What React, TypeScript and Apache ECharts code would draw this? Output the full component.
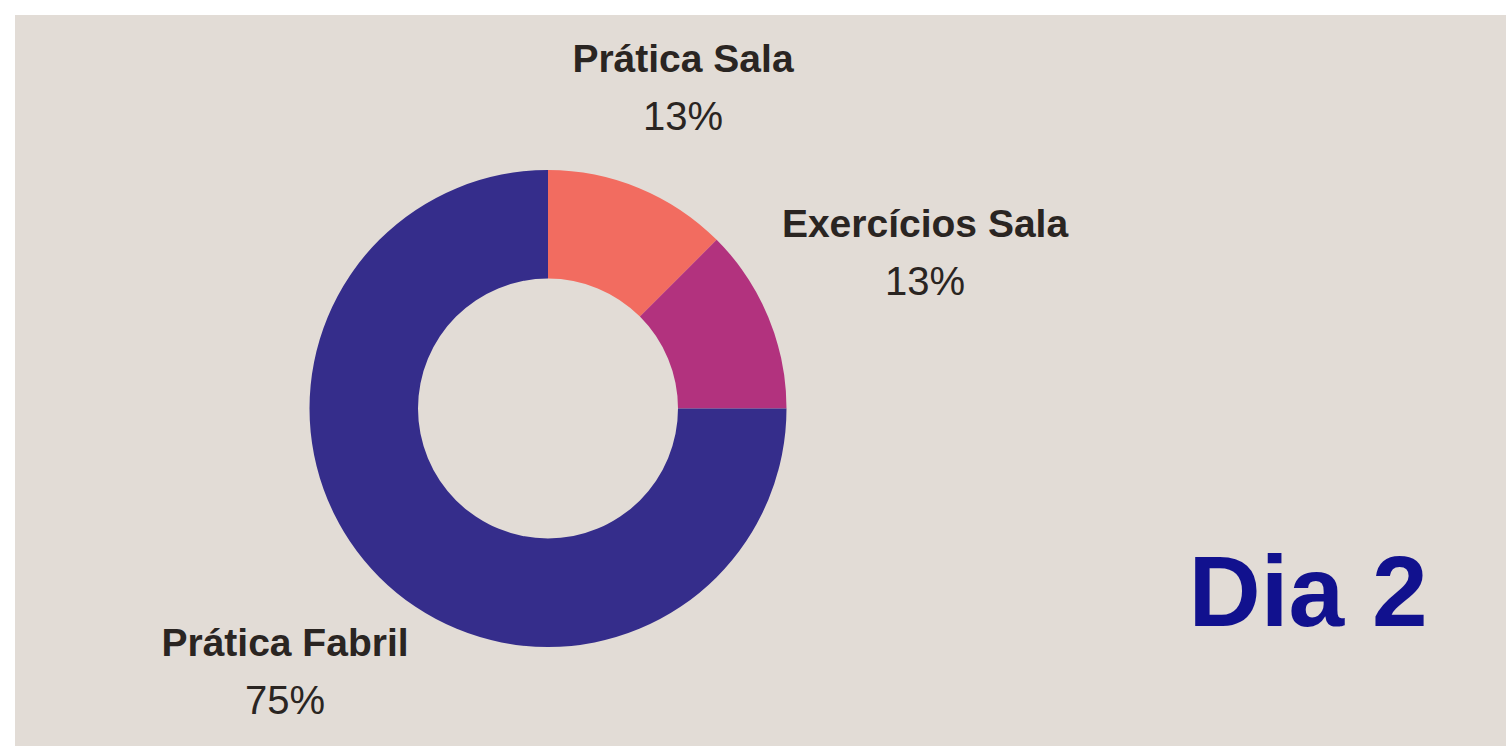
import React, { useEffect, useRef } from "react";
import * as echarts from "echarts";

const categories = ["Prática Sala", "Exercícios Sala", "Prática Fabril"];
const values = [12.5, 12.5, 75];
const colors = ["#f26c60", "#b2327e", "#352d8b"];
const labelAnchors = [
  [668, 72],
  [910, 237],
  [270, 656],
];
const titleText = "Dia 2";

export default function App() {
  const ref = useRef<HTMLDivElement>(null);
  useEffect(() => {
    if (!ref.current) return;
    const chart = echarts.init(ref.current, null, { renderer: "svg" });
    chart.setOption({
      animation: false,
      backgroundColor: "#e2dcd6",
      graphic: [
        {
          type: "text",
          x: 1293,
          y: 576,
          style: {
            text: titleText,
            fill: "#11118e",
            font: "bold 100px 'Liberation Sans', Arial, sans-serif",
            align: "center",
            verticalAlign: "middle",
          },
        },
      ],
      series: [
        {
          type: "pie",
          center: [533, 393.5],
          radius: [130, 238.5],
          startAngle: 90,
          clockwise: true,
          silent: true,
          labelLine: { show: false },
          label: {
            show: true,
            position: "outside",
            formatter: (p: any) => `{n|${p.name}}\n{v|${Math.round(p.value)}%}`,
            rich: {
              n: {
                fontFamily: "'Liberation Sans', Arial, sans-serif",
                fontWeight: "bold",
                fontSize: 39,
                color: "#2a2522",
                lineHeight: 58,
                align: "center",
              },
              v: {
                fontFamily: "'Liberation Sans', Arial, sans-serif",
                fontSize: 40,
                color: "#2a2522",
                lineHeight: 58,
                align: "center",
              },
            },
          },
          labelLayout: (params: any) => {
            const a = labelAnchors[params.dataIndex];
            return { x: a[0], y: a[1], align: "center", verticalAlign: "middle" };
          },
          data: categories.map((c, i) => ({
            name: c,
            value: values[i],
            itemStyle: { color: colors[i] },
          })),
        },
      ],
    });
    return () => chart.dispose();
  }, []);
  return (
    <div
      ref={ref}
      style={{ position: "fixed", left: 15, top: 15, width: 1491, height: 731 }}
    />
  );
}
